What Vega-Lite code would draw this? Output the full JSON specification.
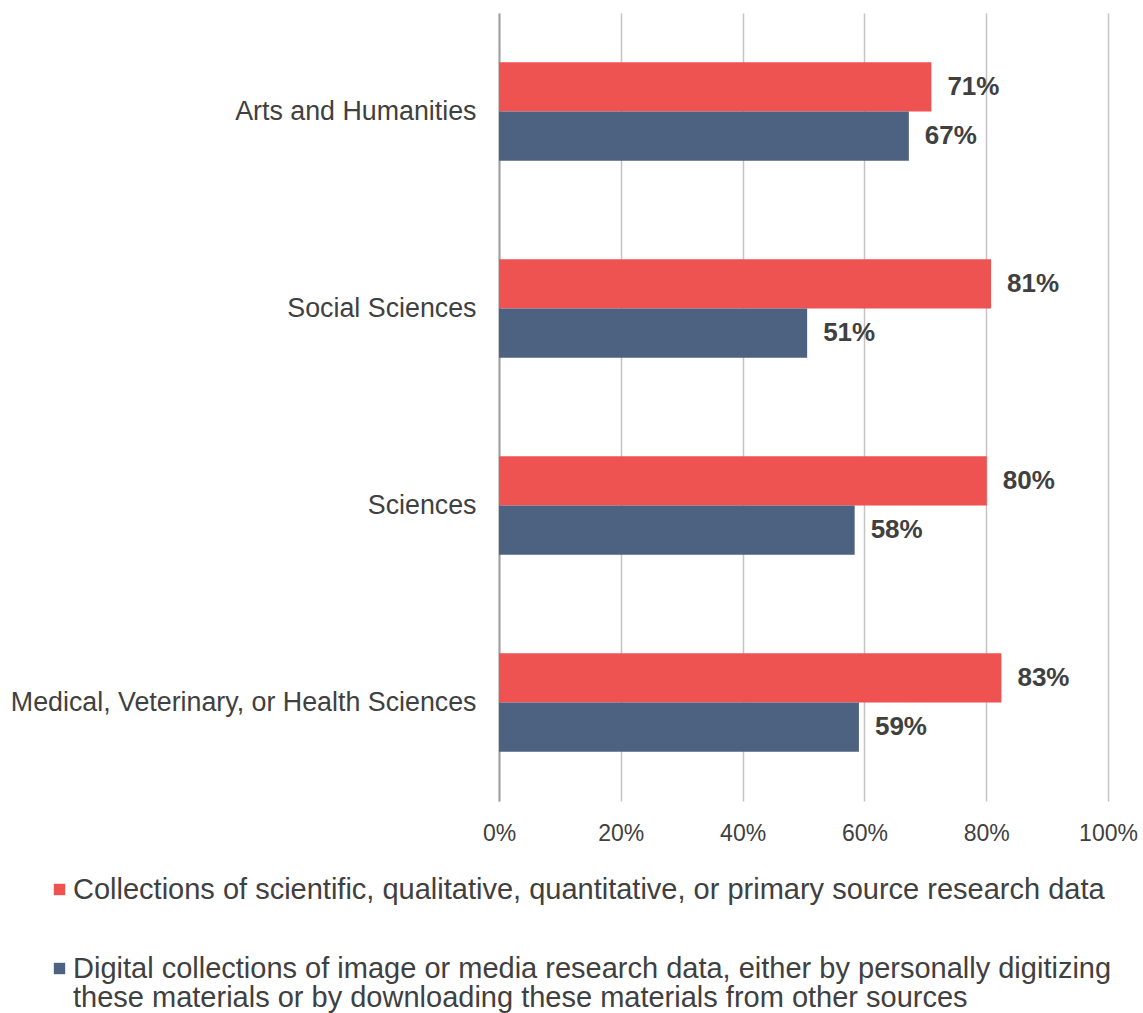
{
  "$schema": "https://vega.github.io/schema/vega-lite/v6.json",
  "autosize": "none",
  "width": 609,
  "height": 788,
  "padding": {"left": 499, "top": 13, "right": 35, "bottom": 212},
  "background": "white",
  "config": {
    "font": "Liberation Sans",
    "view": {"stroke": null},
    "axis": {"labelColor": "#404040", "labelFont": "Liberation Sans"},
    "style": {"guide-label": {"lineHeight": 29.5}}
  },
  "data": {
    "values": [
      {"field": "Arts and Humanities", "series": "Collections of scientific, qualitative, quantitative, or primary source research data", "value": 0.71},
      {"field": "Arts and Humanities", "series": "Digital collections of image or media research data, either by personally digitizing these materials or by downloading these materials from other sources", "value": 0.673},
      {"field": "Social Sciences", "series": "Collections of scientific, qualitative, quantitative, or primary source research data", "value": 0.808},
      {"field": "Social Sciences", "series": "Digital collections of image or media research data, either by personally digitizing these materials or by downloading these materials from other sources", "value": 0.506},
      {"field": "Sciences", "series": "Collections of scientific, qualitative, quantitative, or primary source research data", "value": 0.801},
      {"field": "Sciences", "series": "Digital collections of image or media research data, either by personally digitizing these materials or by downloading these materials from other sources", "value": 0.584},
      {"field": "Medical, Veterinary, or Health Sciences", "series": "Collections of scientific, qualitative, quantitative, or primary source research data", "value": 0.825},
      {"field": "Medical, Veterinary, or Health Sciences", "series": "Digital collections of image or media research data, either by personally digitizing these materials or by downloading these materials from other sources", "value": 0.591}
    ]
  },
  "encoding": {
    "y": {
      "field": "field", "type": "nominal",
      "sort": ["Arts and Humanities", "Social Sciences", "Sciences", "Medical, Veterinary, or Health Sciences"],
      "scale": {"paddingInner": 0.5, "paddingOuter": 0.25},
      "axis": {"title": null, "ticks": false, "domain": true, "domainColor": "#a0a0a0", "domainWidth": 2, "labelFontSize": 26.8, "labelPadding": 23, "labelLimit": 0, "grid": false}
    },
    "yOffset": {
      "field": "series", "type": "nominal",
      "sort": ["Collections of scientific, qualitative, quantitative, or primary source research data", "Digital collections of image or media research data, either by personally digitizing these materials or by downloading these materials from other sources"],
      "scale": {"paddingInner": 0, "paddingOuter": 0}
    },
    "x": {
      "field": "value", "type": "quantitative",
      "scale": {"domain": [0, 1], "nice": false},
      "axis": {"title": null, "format": ".0%", "values": [0, 0.2, 0.4, 0.6, 0.8, 1], "grid": true, "gridColor": "#c4c4c4", "gridWidth": 1.5, "domain": false, "ticks": false, "labelFontSize": 23, "labelPadding": 21, "labelFlush": false}
    }
  },
  "layer": [
    {
      "mark": {"type": "bar"},
      "encoding": {
        "color": {
          "field": "series", "type": "nominal",
          "sort": ["Collections of scientific, qualitative, quantitative, or primary source research data", "Digital collections of image or media research data, either by personally digitizing these materials or by downloading these materials from other sources"],
          "scale": {"range": ["#EE5352", "#4D6280"]},
          "legend": {
            "title": null,
            "orient": "none",
            "legendX": -454,
            "legendY": 862,
            "direction": "vertical",
            "symbolType": "square",
            "symbolSize": 130,
            "symbolStrokeWidth": 0,
            "labelFontSize": 29,
            "labelColor": "#404040",
            "labelFont": "Liberation Sans",
            "labelLimit": 0,
            "labelOffset": -1,
            "rowPadding": 49,
            "labelExpr": "indexof(datum.label, 'Digital') == 0 ? ['Digital collections of image or media research data, either by personally digitizing', 'these materials or by downloading these materials from other sources'] : datum.label"
          }
        }
      }
    },
    {
      "mark": {"type": "text", "align": "left", "baseline": "middle", "dx": 16, "fontSize": 26, "fontWeight": "bold", "color": "#404040", "font": "Liberation Sans"},
      "encoding": {
        "text": {"field": "value", "type": "quantitative", "format": ".0%"}
      }
    }
  ]
}
